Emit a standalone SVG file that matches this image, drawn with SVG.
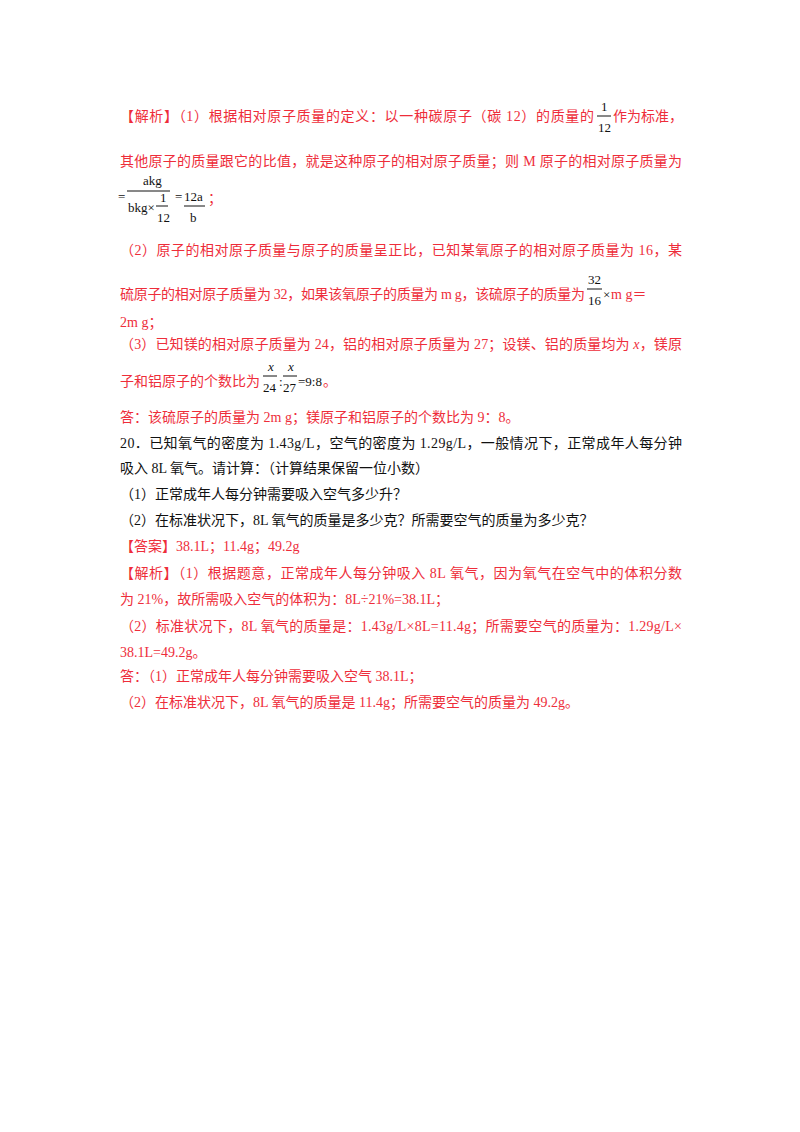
<svg xmlns="http://www.w3.org/2000/svg" width="800" height="1132" viewBox="0 0 800 1132">
<style>
text{font-family:"Liberation Serif","Noto Sans CJK SC",serif;font-size:14px;fill:#ee2d3a}
.k{fill:#111}
.s{font-size:13px}
line{stroke:#ee2d3a;stroke-width:1}
.kl{stroke:#111}
</style>
<rect width="800" height="1132" fill="#fff"/>
<g id="analysis1">
<text x="120" y="121" textLength="474" lengthAdjust="spacing">【解析】（1）根据相对原子质量的定义：以一种碳原子（碳 12）的质量的</text>
<text x="601" y="111" class="s k">1</text>
<line x1="597" y1="116" x2="611" y2="116" class="kl"/>
<text x="598" y="132" class="s k">12</text>
<text x="613" y="121">作为标准，</text>
<text x="120" y="166" textLength="562" lengthAdjust="spacing">其他原子的质量跟它的比值，就是这种原子的相对原子质量；则 M 原子的相对原子质量为</text>
<text x="143" y="185" class="s k">akg</text>
<line x1="127" y1="191" x2="170" y2="191" class="kl"/>
<text x="118" y="201" class="s k">=</text>
<text x="128" y="212" class="s k">bkg×</text>
<text x="160" y="202" class="s k">1</text>
<line x1="156" y1="206" x2="168" y2="206" class="kl"/>
<text x="157" y="222" class="s k">12</text>
<text x="175" y="201" class="s k">=</text>
<text x="184" y="201" class="s k">12a</text>
<line x1="184" y1="206" x2="205" y2="206" class="kl"/>
<text x="190" y="222" class="s k">b</text>
<text x="208" y="203">；</text>
</g>
<g id="analysis2">
<text x="120" y="255" textLength="562" lengthAdjust="spacing">（2）原子的相对原子质量与原子的质量呈正比，已知某氧原子的相对原子质量为 16，某</text>
<text x="120" y="299" textLength="465" lengthAdjust="spacing">硫原子的相对原子质量为 32，如果该氧原子的质量为 m g，该硫原子的质量为</text>
<text x="588" y="284" class="s k">32</text>
<line x1="587" y1="289" x2="602" y2="289" class="kl"/>
<text x="588" y="305" class="s k">16</text>
<text x="603" y="299" class="k" style="font-size:13px">×</text>
<text x="611" y="299">m g＝</text>
<text x="120" y="327">2m g；</text>
</g>
<g id="analysis3">
<text x="120" y="349" textLength="562" lengthAdjust="spacing">（3）已知镁的相对原子质量为 24，铝的相对原子质量为 27；设镁、铝的质量均为 <tspan font-style="italic">x</tspan>，镁原</text>
<text x="120" y="386">子和铝原子的个数比为</text>
<text x="268" y="371" class="s k" font-style="italic">x</text>
<line x1="263" y1="376" x2="277" y2="376" class="kl"/>
<text x="263" y="392" class="s k">24</text>
<text x="279" y="386" class="s k">:</text>
<text x="288" y="371" class="s k" font-style="italic">x</text>
<line x1="283" y1="376" x2="297" y2="376" class="kl"/>
<text x="283" y="392" class="s k">27</text>
<text x="298" y="386" class="s k">=9:8</text>
<text x="323" y="386">。</text>
<text x="120" y="422">答：该硫原子的质量为 2m g；镁原子和铝原子的个数比为 9：8。</text>
</g>
<g id="question20">
<text x="120" y="448" class="k" textLength="562" lengthAdjust="spacing">20．已知氧气的密度为 1.43g/L，空气的密度为 1.29g/L，一般情况下，正常成年人每分钟</text>
<text x="120" y="473" class="k">吸入 8L 氧气。请计算：（计算结果保留一位小数）</text>
<text x="120" y="499" class="k">（1）正常成年人每分钟需要吸入空气多少升？</text>
<text x="120" y="525" class="k">（2）在标准状况下，8L 氧气的质量是多少克？所需要空气的质量为多少克？</text>
</g>
<g id="answer20">
<text x="120" y="551">【答案】38.1L；11.4g；49.2g</text>
<text x="120" y="578" textLength="562" lengthAdjust="spacing">【解析】（1）根据题意，正常成年人每分钟吸入 8L 氧气，因为氧气在空气中的体积分数</text>
<text x="120" y="604">为 21%，故所需吸入空气的体积为：8L÷21%=38.1L；</text>
<text x="120" y="631" textLength="562" lengthAdjust="spacing">（2）标准状况下，8L 氧气的质量是：1.43g/L×8L=11.4g；所需要空气的质量为：1.29g/L×</text>
<text x="120" y="657">38.1L=49.2g。</text>
<text x="120" y="681">答：（1）正常成年人每分钟需要吸入空气 38.1L；</text>
<text x="120" y="707">（2）在标准状况下，8L 氧气的质量是 11.4g；所需要空气的质量为 49.2g。</text>
</g>
<g id="connectors"/>
</svg>
